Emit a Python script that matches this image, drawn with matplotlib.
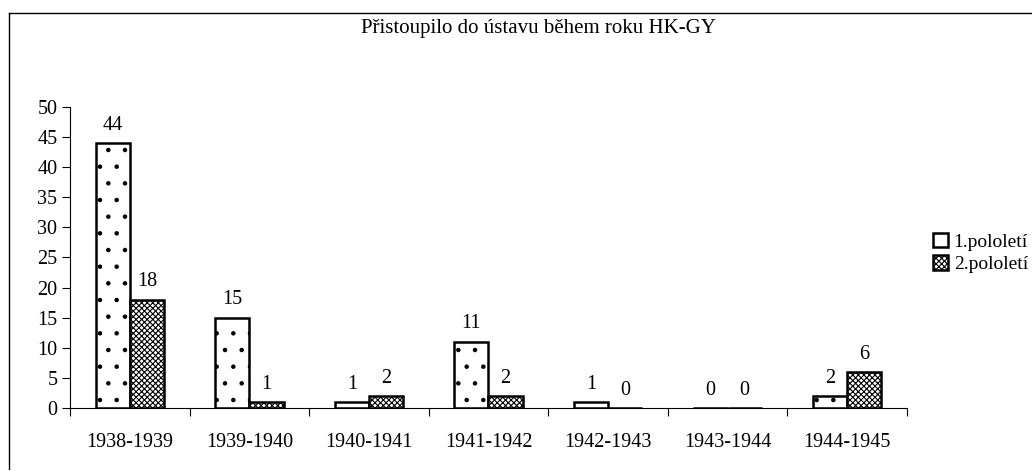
import matplotlib.pyplot as plt
import numpy as np
from matplotlib.lines import Line2D

plt.rcParams['font.family'] = ['Liberation Serif', 'DejaVu Serif']
plt.rcParams['hatch.linewidth'] = 0.8

years = ['1938-1939', '1939-1940', '1940-1941', '1941-1942',
         '1942-1943', '1943-1944', '1944-1945']
first_half = [44, 15, 1, 11, 1, 0, 2]
second_half = [18, 1, 2, 2, 0, 0, 6]
series_names = ['1.pololetí', '2.pololetí']

fig = plt.figure(figsize=(10.32, 4.71), dpi=100)
ax = fig.add_axes([0.0678, 0.1338, 0.8111, 0.639])

x = np.arange(len(years))
w = 0.2857

b1 = ax.bar(x - w / 2, first_half, w, facecolor='white', edgecolor='black',
            linewidth=1.8, hatch='.', label=series_names[0])
b2 = ax.bar(x + w / 2, second_half, w, facecolor='white', edgecolor='black',
            linewidth=1.8, hatch='xxxxxx', label=series_names[1])

for bars, vals in ((b1, first_half), (b2, second_half)):
    for rect, v in zip(bars, vals):
        ax.annotate(str(v), (rect.get_x() + rect.get_width() / 2, v),
                    xytext=(0, 6), textcoords='offset points',
                    ha='center', va='bottom', fontsize=14.5)

ax.set_xlim(-0.5, len(years) - 0.5)
ax.set_ylim(0, 50)
ax.set_yticks(range(0, 51, 5))
ax.tick_params(axis='y', labelsize=14.5, direction='out', length=6,
               width=0.8, pad=3)

# category labels centred, tick marks between categories
ax.set_xticks(x)
ax.set_xticklabels(years, fontsize=14.5)
ax.tick_params(axis='x', which='major', length=0, pad=18)
ax.set_xticks(np.arange(-0.5, len(years)), minor=True)
ax.tick_params(axis='x', which='minor', direction='out', length=6, width=0.8)

for s in ('top', 'right'):
    ax.spines[s].set_visible(False)
ax.spines['left'].set_linewidth(0.8)
ax.spines['bottom'].set_linewidth(0.8)

fig.text(0.522, 0.94, 'Přistoupilo do ústavu během roku HK-GY',
         ha='center', va='center', fontsize=15)

ax.legend(loc='center left', bbox_to_anchor=(1.022, 0.515), frameon=False,
          fontsize=14, handlelength=0.75, handleheight=0.75,
          handletextpad=0.3, labelspacing=0.25, borderaxespad=0)

# chart-area border (top and left visible in the scan)
fig.add_artist(Line2D([0.0087, 0.0087], [0.005, 0.972], color='black', lw=1.0))
fig.add_artist(Line2D([0.0087, 0.999], [0.972, 0.972], color='black', lw=1.0))

fig.savefig('out.png', dpi=100)
